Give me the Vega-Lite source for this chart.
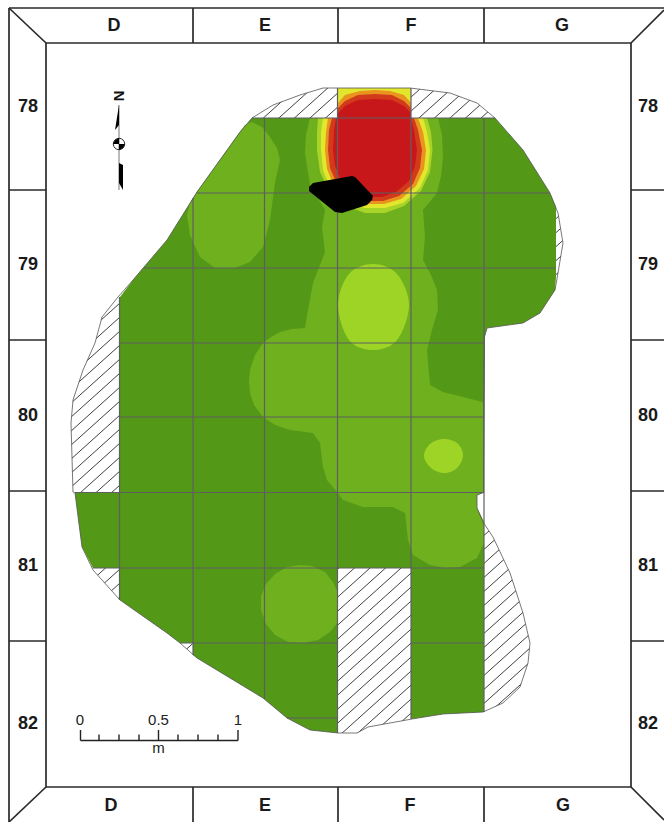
{"$schema":"https://vega.github.io/schema/vega-lite/v6.json","width":664,"height":822,"padding":0,"autosize":{"type":"none"},"background":"white","view":{"stroke":null},
"datasets":{
"site":[{"x":252,"y":118},{"x":240,"y":132},{"x":197,"y":192},{"x":167,"y":240},{"x":133,"y":280},{"x":118,"y":297},{"x":102,"y":317},{"x":95,"y":343},{"x":83,"y":370},{"x":73,"y":400},{"x":71,"y":423},{"x":73,"y":492},{"x":75,"y":493},{"x":82,"y":547},{"x":93,"y":570},{"x":120,"y":600},{"x":167,"y":633},{"x":180,"y":643},{"x":197,"y":658},{"x":263,"y":698},{"x":287,"y":718},{"x":310,"y":730},{"x":338,"y":733},{"x":357,"y":733},{"x":368,"y":727},{"x":412,"y":719},{"x":443,"y":714},{"x":483,"y":712},{"x":503,"y":703},{"x":520,"y":687},{"x":528,"y":663},{"x":530,"y":643},{"x":523,"y":613},{"x":510,"y":573},{"x":493,"y":537},{"x":483,"y":522},{"x":477,"y":508},{"x":477,"y":495},{"x":483.5,"y":492.5},{"x":484.5,"y":337},{"x":487,"y":328},{"x":523,"y":323},{"x":540,"y":313},{"x":555,"y":290},{"x":558,"y":273},{"x":563,"y":243},{"x":558,"y":213},{"x":550,"y":193},{"x":523,"y":150},{"x":495,"y":118},{"x":477,"y":103},{"x":450,"y":93},{"x":410,"y":88},{"x":323,"y":88},{"x":300,"y":95},{"x":273,"y":105},{"x":252,"y":118}],
"stone":[{"s":"stone","x":313,"y":183},{"s":"stone","x":352,"y":176},{"s":"stone","x":355,"y":177},{"s":"stone","x":373,"y":196},{"s":"stone","x":372,"y":200},{"s":"stone","x":367,"y":205},{"s":"stone","x":342,"y":213},{"s":"stone","x":335,"y":212},{"s":"stone","x":309,"y":191},{"s":"stone","x":309,"y":187},
{"s":"wedge","x":119,"y":105},{"s":"wedge","x":115,"y":130},{"s":"wedge","x":119,"y":125},
{"s":"tail","x":119,"y":163},{"s":"tail","x":123,"y":165},{"s":"tail","x":123,"y":190},{"s":"tail","x":119,"y":183},
{"s":"q1","x":119,"y":144},{"s":"q1","x":113,"y":144},{"s":"q1","x":115,"y":140},{"s":"q1","x":119,"y":138},
{"s":"q2","x":119,"y":144},{"s":"q2","x":125,"y":144},{"s":"q2","x":123,"y":148},{"s":"q2","x":119,"y":150}]
},
"encoding":{"x":{"field":"x","type":"quantitative","scale":{"domain":[0,664],"nice":false,"zero":false},"axis":null},"y":{"field":"y","type":"quantitative","scale":{"domain":[822,0],"nice":false,"zero":false},"axis":null}},
"layer":[
{"data":{"values":[{"x":60,"y":287,"x2":570,"y2":-172},{"x":60,"y":301,"x2":570,"y2":-158},{"x":60,"y":315,"x2":570,"y2":-144},{"x":60,"y":329,"x2":570,"y2":-130},{"x":60,"y":343,"x2":570,"y2":-116},{"x":60,"y":357,"x2":570,"y2":-102},{"x":60,"y":371,"x2":570,"y2":-88},{"x":60,"y":385,"x2":570,"y2":-74},{"x":60,"y":399,"x2":570,"y2":-60},{"x":60,"y":413,"x2":570,"y2":-46},{"x":60,"y":427,"x2":570,"y2":-32},{"x":60,"y":441,"x2":570,"y2":-18},{"x":60,"y":455,"x2":570,"y2":-4},{"x":60,"y":469,"x2":570,"y2":10},{"x":60,"y":483,"x2":570,"y2":24},{"x":60,"y":497,"x2":570,"y2":38},{"x":60,"y":511,"x2":570,"y2":52},{"x":60,"y":525,"x2":570,"y2":66},{"x":60,"y":539,"x2":570,"y2":80},{"x":60,"y":553,"x2":570,"y2":94},{"x":60,"y":567,"x2":570,"y2":108},{"x":60,"y":581,"x2":570,"y2":122},{"x":60,"y":595,"x2":570,"y2":136},{"x":60,"y":609,"x2":570,"y2":150},{"x":60,"y":623,"x2":570,"y2":164},{"x":60,"y":637,"x2":570,"y2":178},{"x":60,"y":651,"x2":570,"y2":192},{"x":60,"y":665,"x2":570,"y2":206},{"x":60,"y":679,"x2":570,"y2":220},{"x":60,"y":693,"x2":570,"y2":234},{"x":60,"y":707,"x2":570,"y2":248},{"x":60,"y":721,"x2":570,"y2":262},{"x":60,"y":735,"x2":570,"y2":276},{"x":60,"y":749,"x2":570,"y2":290},{"x":60,"y":763,"x2":570,"y2":304},{"x":60,"y":777,"x2":570,"y2":318},{"x":60,"y":791,"x2":570,"y2":332},{"x":60,"y":805,"x2":570,"y2":346},{"x":60,"y":819,"x2":570,"y2":360},{"x":60,"y":833,"x2":570,"y2":374},{"x":60,"y":847,"x2":570,"y2":388},{"x":60,"y":861,"x2":570,"y2":402},{"x":60,"y":875,"x2":570,"y2":416},{"x":60,"y":889,"x2":570,"y2":430},{"x":60,"y":903,"x2":570,"y2":444},{"x":60,"y":917,"x2":570,"y2":458},{"x":60,"y":931,"x2":570,"y2":472},{"x":60,"y":945,"x2":570,"y2":486},{"x":60,"y":959,"x2":570,"y2":500},{"x":60,"y":973,"x2":570,"y2":514},{"x":60,"y":987,"x2":570,"y2":528},{"x":60,"y":1001,"x2":570,"y2":542},{"x":60,"y":1015,"x2":570,"y2":556},{"x":60,"y":1029,"x2":570,"y2":570},{"x":60,"y":1043,"x2":570,"y2":584},{"x":60,"y":1057,"x2":570,"y2":598},{"x":60,"y":1071,"x2":570,"y2":612},{"x":60,"y":1085,"x2":570,"y2":626},{"x":60,"y":1099,"x2":570,"y2":640},{"x":60,"y":1113,"x2":570,"y2":654}]},"mark":{"type":"rule","stroke":"#2a2a2a","strokeWidth":0.9},"encoding":{"x2":{"field":"x2"},"y2":{"field":"y2"}}},
{"data":{"values":[
{"s":"mask","x":0,"y":0},{"s":"mask","x":664,"y":0},{"s":"mask","x":664,"y":822},{"s":"mask","x":0,"y":822},{"s":"mask","x":0,"y":0},{"s":"mask","x":252,"y":118},{"s":"mask","x":240,"y":132},{"s":"mask","x":197,"y":192},{"s":"mask","x":167,"y":240},{"s":"mask","x":133,"y":280},{"s":"mask","x":118,"y":297},{"s":"mask","x":102,"y":317},{"s":"mask","x":95,"y":343},{"s":"mask","x":83,"y":370},{"s":"mask","x":73,"y":400},{"s":"mask","x":71,"y":423},{"s":"mask","x":73,"y":492},{"s":"mask","x":75,"y":493},{"s":"mask","x":82,"y":547},{"s":"mask","x":93,"y":570},{"s":"mask","x":120,"y":600},{"s":"mask","x":167,"y":633},{"s":"mask","x":180,"y":643},{"s":"mask","x":197,"y":658},{"s":"mask","x":263,"y":698},{"s":"mask","x":287,"y":718},{"s":"mask","x":310,"y":730},{"s":"mask","x":338,"y":733},{"s":"mask","x":357,"y":733},{"s":"mask","x":368,"y":727},{"s":"mask","x":412,"y":719},{"s":"mask","x":443,"y":714},{"s":"mask","x":483,"y":712},{"s":"mask","x":503,"y":703},{"s":"mask","x":520,"y":687},{"s":"mask","x":528,"y":663},{"s":"mask","x":530,"y":643},{"s":"mask","x":523,"y":613},{"s":"mask","x":510,"y":573},{"s":"mask","x":493,"y":537},{"s":"mask","x":483,"y":522},{"s":"mask","x":477,"y":508},{"s":"mask","x":477,"y":495},{"s":"mask","x":483.5,"y":492.5},{"s":"mask","x":484.5,"y":337},{"s":"mask","x":487,"y":328},{"s":"mask","x":523,"y":323},{"s":"mask","x":540,"y":313},{"s":"mask","x":555,"y":290},{"s":"mask","x":558,"y":273},{"s":"mask","x":563,"y":243},{"s":"mask","x":558,"y":213},{"s":"mask","x":550,"y":193},{"s":"mask","x":523,"y":150},{"s":"mask","x":495,"y":118},{"s":"mask","x":477,"y":103},{"s":"mask","x":450,"y":93},{"s":"mask","x":410,"y":88},{"s":"mask","x":323,"y":88},{"s":"mask","x":300,"y":95},{"s":"mask","x":273,"y":105},{"s":"mask","x":252,"y":118},{"s":"mask","x":0,"y":0},
{"s":"base","x":252,"y":118},{"s":"base","x":495,"y":118},{"s":"base","x":523,"y":150},{"s":"base","x":550,"y":193},{"s":"base","x":556,"y":207},{"s":"base","x":556,"y":277},{"s":"base","x":555,"y":290},{"s":"base","x":540,"y":313},{"s":"base","x":523,"y":323},{"s":"base","x":487,"y":328},{"s":"base","x":484.5,"y":337},{"s":"base","x":483.5,"y":492.5},{"s":"base","x":477,"y":495},{"s":"base","x":477,"y":508},{"s":"base","x":484,"y":522},{"s":"base","x":484,"y":712},{"s":"base","x":443,"y":714},{"s":"base","x":411,"y":719},{"s":"base","x":411,"y":568},{"s":"base","x":338,"y":568},{"s":"base","x":338,"y":733},{"s":"base","x":310,"y":730},{"s":"base","x":287,"y":718},{"s":"base","x":263,"y":698},{"s":"base","x":197,"y":658},{"s":"base","x":193,"y":655},{"s":"base","x":193,"y":643},{"s":"base","x":180,"y":643},{"s":"base","x":167,"y":633},{"s":"base","x":120,"y":600},{"s":"base","x":120,"y":568},{"s":"base","x":93,"y":568},{"s":"base","x":82,"y":547},{"s":"base","x":75,"y":493},{"s":"base","x":120,"y":492},{"s":"base","x":120,"y":297},{"s":"base","x":133,"y":280},{"s":"base","x":167,"y":240},{"s":"base","x":197,"y":192},{"s":"base","x":240,"y":132},
{"s":"mid","x":310,"y":118},{"s":"mid","x":438,"y":118},{"s":"mid","x":442,"y":135},{"s":"mid","x":443,"y":157},{"s":"mid","x":441,"y":176},{"s":"mid","x":437,"y":193},{"s":"mid","x":423,"y":210},{"s":"mid","x":425,"y":237},{"s":"mid","x":423,"y":260},{"s":"mid","x":431,"y":275},{"s":"mid","x":437,"y":290},{"s":"mid","x":438,"y":310},{"s":"mid","x":432,"y":330},{"s":"mid","x":427,"y":350},{"s":"mid","x":430,"y":385},{"s":"mid","x":443,"y":392},{"s":"mid","x":483,"y":402},{"s":"mid","x":483.5,"y":492.5},{"s":"mid","x":477,"y":495},{"s":"mid","x":477,"y":508},{"s":"mid","x":484,"y":522},{"s":"mid","x":484,"y":543},{"s":"mid","x":477,"y":558},{"s":"mid","x":460,"y":567},{"s":"mid","x":445,"y":568},{"s":"mid","x":430,"y":565},{"s":"mid","x":413,"y":555},{"s":"mid","x":408,"y":540},{"s":"mid","x":405,"y":513},{"s":"mid","x":393,"y":507},{"s":"mid","x":363,"y":507},{"s":"mid","x":343,"y":500},{"s":"mid","x":337,"y":492},{"s":"mid","x":327,"y":480},{"s":"mid","x":323,"y":467},{"s":"mid","x":320,"y":443},{"s":"mid","x":313,"y":433},{"s":"mid","x":290,"y":430},{"s":"mid","x":275,"y":425},{"s":"mid","x":263,"y":417},{"s":"mid","x":254,"y":405},{"s":"mid","x":250,"y":393},{"s":"mid","x":249,"y":381},{"s":"mid","x":250,"y":370},{"s":"mid","x":255,"y":355},{"s":"mid","x":263,"y":343},{"s":"mid","x":271,"y":337},{"s":"mid","x":280,"y":332},{"s":"mid","x":292,"y":329},{"s":"mid","x":305,"y":328},{"s":"mid","x":308,"y":310},{"s":"mid","x":313,"y":283},{"s":"mid","x":325,"y":252},{"s":"mid","x":322,"y":227},{"s":"mid","x":325,"y":210},{"s":"mid","x":310,"y":185},{"s":"mid","x":305,"y":153},{"s":"mid","x":306,"y":135},
{"s":"mid2","x":240,"y":132},{"s":"mid2","x":245,"y":125},{"s":"mid2","x":252,"y":122},{"s":"mid2","x":262,"y":127},{"s":"mid2","x":270,"y":137},{"s":"mid2","x":277,"y":148},{"s":"mid2","x":280,"y":160},{"s":"mid2","x":275,"y":183},{"s":"mid2","x":270,"y":220},{"s":"mid2","x":263,"y":247},{"s":"mid2","x":250,"y":262},{"s":"mid2","x":235,"y":268},{"s":"mid2","x":215,"y":268},{"s":"mid2","x":200,"y":257},{"s":"mid2","x":190,"y":235},{"s":"mid2","x":187,"y":215},{"s":"mid2","x":190,"y":203},{"s":"mid2","x":197,"y":192},
{"s":"mid3","x":300,"y":565},{"s":"mid3","x":312,"y":566},{"s":"mid3","x":325,"y":572},{"s":"mid3","x":333,"y":582},{"s":"mid3","x":338,"y":593},{"s":"mid3","x":338,"y":622},{"s":"mid3","x":330,"y":632},{"s":"mid3","x":318,"y":640},{"s":"mid3","x":303,"y":643},{"s":"mid3","x":288,"y":642},{"s":"mid3","x":275,"y":635},{"s":"mid3","x":266,"y":624},{"s":"mid3","x":261,"y":610},{"s":"mid3","x":261,"y":596},{"s":"mid3","x":266,"y":584},{"s":"mid3","x":275,"y":574},{"s":"mid3","x":287,"y":567}
]},"transform":[{"window":[{"op":"row_number","as":"i"}]}],"mark":{"type":"line","strokeWidth":0,"strokeOpacity":0},
"encoding":{"order":{"field":"i"},"detail":{"field":"s"},"fill":{"field":"s","type":"nominal","legend":null,"scale":{"domain":["mask","base","mid","mid2","mid3","pale","yellow","orange","dark","red"],"range":["#ffffff","#549817","#6fb01e","#6fb01e","#6fb01e","#a8d428","#e2e62c","#e8941e","#d23a1c","#c8171b"]}}}},
{"data":{"values":[
{"s":"l1","x":373,"y":264},{"s":"l1","x":397,"y":274},{"s":"l1","x":409,"y":305},{"s":"l1","x":397,"y":340},{"s":"l1","x":373,"y":350},{"s":"l1","x":349,"y":340},{"s":"l1","x":338,"y":305},{"s":"l1","x":349,"y":274},
{"s":"l2","x":443,"y":439},{"s":"l2","x":457,"y":443},{"s":"l2","x":463,"y":455},{"s":"l2","x":457,"y":468},{"s":"l2","x":444,"y":473},{"s":"l2","x":431,"y":468},{"s":"l2","x":424,"y":456},{"s":"l2","x":430,"y":444}
]},"transform":[{"window":[{"op":"row_number","as":"i"}]}],"mark":{"type":"line","strokeWidth":0,"strokeOpacity":0,"interpolate":"cardinal-closed","fill":"#9ed426"},"encoding":{"order":{"field":"i"},"detail":{"field":"s"}}},
{"data":{"values":[
{"s":"pale","x":318,"y":118},{"s":"pale","x":427,"y":118},{"s":"pale","x":431,"y":132},{"s":"pale","x":432.5,"y":150},{"s":"pale","x":430,"y":172},{"s":"pale","x":421,"y":191},{"s":"pale","x":404,"y":206},{"s":"pale","x":385,"y":213},{"s":"pale","x":365,"y":213},{"s":"pale","x":346,"y":206},{"s":"pale","x":329,"y":191},{"s":"pale","x":320,"y":172},{"s":"pale","x":317,"y":150},{"s":"pale","x":317,"y":132},
{"s":"yellow","x":323,"y":118},{"s":"yellow","x":338,"y":118},{"s":"yellow","x":338,"y":88},{"s":"yellow","x":411,"y":88},{"s":"yellow","x":411,"y":118},{"s":"yellow","x":423,"y":118},{"s":"yellow","x":427,"y":132},{"s":"yellow","x":430,"y":150},{"s":"yellow","x":428,"y":170},{"s":"yellow","x":420,"y":188},{"s":"yellow","x":403,"y":203},{"s":"yellow","x":385,"y":208},{"s":"yellow","x":365,"y":208},{"s":"yellow","x":347,"y":203},{"s":"yellow","x":330,"y":188},{"s":"yellow","x":323,"y":170},{"s":"yellow","x":321,"y":150},{"s":"yellow","x":321,"y":132},
{"s":"orange","x":338,"y":103},{"s":"orange","x":345,"y":95},{"s":"orange","x":360,"y":91},{"s":"orange","x":375,"y":90},{"s":"orange","x":390,"y":91},{"s":"orange","x":404,"y":95},{"s":"orange","x":411,"y":103},{"s":"orange","x":411,"y":118},{"s":"orange","x":418,"y":118},{"s":"orange","x":423,"y":132},{"s":"orange","x":426,"y":150},{"s":"orange","x":424,"y":169},{"s":"orange","x":416,"y":186},{"s":"orange","x":401,"y":199},{"s":"orange","x":384,"y":204},{"s":"orange","x":366,"y":204},{"s":"orange","x":349,"y":199},{"s":"orange","x":334,"y":186},{"s":"orange","x":327,"y":169},{"s":"orange","x":325,"y":150},{"s":"orange","x":326,"y":132},{"s":"orange","x":328,"y":118},{"s":"orange","x":338,"y":118},
{"s":"dark","x":338,"y":108},{"s":"dark","x":345,"y":101},{"s":"dark","x":358,"y":95},{"s":"dark","x":375,"y":94},{"s":"dark","x":392,"y":95},{"s":"dark","x":404,"y":101},{"s":"dark","x":411,"y":108},{"s":"dark","x":411,"y":118},{"s":"dark","x":414,"y":118},{"s":"dark","x":418,"y":130},{"s":"dark","x":422,"y":150},{"s":"dark","x":420,"y":168},{"s":"dark","x":413,"y":184},{"s":"dark","x":399,"y":196},{"s":"dark","x":383,"y":201},{"s":"dark","x":367,"y":201},{"s":"dark","x":351,"y":196},{"s":"dark","x":337,"y":184},{"s":"dark","x":330,"y":168},{"s":"dark","x":328,"y":150},{"s":"dark","x":329,"y":130},{"s":"dark","x":332,"y":118},{"s":"dark","x":338,"y":118},
{"s":"red","x":338,"y":113},{"s":"red","x":345,"y":106},{"s":"red","x":358,"y":100},{"s":"red","x":375,"y":99},{"s":"red","x":392,"y":100},{"s":"red","x":404,"y":106},{"s":"red","x":411,"y":113},{"s":"red","x":411,"y":118},{"s":"red","x":414,"y":130},{"s":"red","x":417,"y":150},{"s":"red","x":415,"y":166},{"s":"red","x":409,"y":181},{"s":"red","x":396,"y":192},{"s":"red","x":382,"y":197},{"s":"red","x":368,"y":197},{"s":"red","x":354,"y":192},{"s":"red","x":341,"y":181},{"s":"red","x":335,"y":166},{"s":"red","x":333,"y":150},{"s":"red","x":334,"y":130},{"s":"red","x":336,"y":118},{"s":"red","x":338,"y":118}
]},"transform":[{"window":[{"op":"row_number","as":"i"}]}],"mark":{"type":"line","strokeWidth":0,"strokeOpacity":0},
"encoding":{"order":{"field":"i"},"detail":{"field":"s"},"fill":{"field":"s","type":"nominal","legend":null,"scale":{"domain":["mask","base","mid","mid2","mid3","pale","yellow","orange","dark","red"],"range":["#ffffff","#549817","#6fb01e","#6fb01e","#6fb01e","#a8d428","#e2e62c","#e8941e","#d23a1c","#c8171b"]}}}},
{"data":{"values":[
{"x":119.5,"y":297,"x2":119.5,"y2":600},{"x":193,"y":198,"x2":193,"y2":655},{"x":264.5,"y":118,"x2":264.5,"y2":699},{"x":337.5,"y":88,"x2":337.5,"y2":733},{"x":411,"y":88,"x2":411,"y2":719},{"x":484,"y":118,"x2":484,"y2":712},
{"x":252,"y":118,"x2":495,"y2":118},{"x":197,"y":193,"x2":550,"y2":193},{"x":144,"y":268,"x2":556,"y2":268},{"x":119.5,"y":343,"x2":484,"y2":343},{"x":119.5,"y":417,"x2":484,"y2":417},{"x":75,"y":492.5,"x2":484,"y2":492.5},{"x":93,"y":568,"x2":484,"y2":568},{"x":180,"y":643,"x2":337.5,"y2":643},{"x":411,"y":643,"x2":484,"y2":643},{"x":287,"y":718,"x2":337.5,"y2":718}
]},"mark":{"type":"rule","stroke":"#5f5f63","strokeWidth":1.2},"encoding":{"x2":{"field":"x2"},"y2":{"field":"y2"}}},
{"data":{"name":"site"},"transform":[{"window":[{"op":"row_number","as":"i"}]}],"mark":{"type":"line","stroke":"#555555","strokeWidth":0.8},"encoding":{"order":{"field":"i"}}},
{"data":{"values":[{"x":119,"y":105,"x2":119,"y2":190}]},"mark":{"type":"rule","stroke":"#777777","strokeWidth":1},"encoding":{"x2":{"field":"x2"},"y2":{"field":"y2"}}},
{"data":{"values":[{"x":119,"y":144}]},"mark":{"type":"point","shape":"circle","size":130,"filled":false,"stroke":"#333333","strokeWidth":1,"opacity":1}},
{"data":{"name":"stone"},"transform":[{"window":[{"op":"row_number","as":"i"}]}],"mark":{"type":"line","strokeWidth":0,"strokeOpacity":0,"fill":"#000000"},"encoding":{"order":{"field":"i"},"detail":{"field":"s"}}},
{"data":{"values":[
{"x":9,"y":8,"x2":664,"y2":8},{"x":9,"y":8,"x2":9,"y2":822},{"x":46,"y":43,"x2":631,"y2":43},{"x":46,"y":43,"x2":46,"y2":787},{"x":631,"y":43,"x2":631,"y2":787},{"x":46,"y":787,"x2":631,"y2":787},
{"x":9,"y":8,"x2":46,"y2":43},{"x":664,"y":10,"x2":631,"y2":43},{"x":631,"y":787,"x2":664,"y2":820},{"x":46,"y":787,"x2":9,"y2":822},
{"x":193,"y":8,"x2":193,"y2":43},{"x":338,"y":8,"x2":338,"y2":43},{"x":484,"y":8,"x2":484,"y2":43},
{"x":193,"y":787,"x2":193,"y2":822},{"x":338,"y":787,"x2":338,"y2":822},{"x":484,"y":787,"x2":484,"y2":822},
{"x":9,"y":190,"x2":46,"y2":190},{"x":9,"y":340,"x2":46,"y2":340},{"x":9,"y":491,"x2":46,"y2":491},{"x":9,"y":641,"x2":46,"y2":641},
{"x":631,"y":190,"x2":664,"y2":190},{"x":631,"y":340,"x2":664,"y2":340},{"x":631,"y":491,"x2":664,"y2":491},{"x":631,"y":641,"x2":664,"y2":641}
]},"mark":{"type":"rule","stroke":"#2a2a2a","strokeWidth":1.7},"encoding":{"x2":{"field":"x2"},"y2":{"field":"y2"}}},
{"data":{"values":[
{"x":80.5,"y":740.5,"x2":238,"y2":740.5},{"x":80.5,"y":730,"x2":80.5,"y2":740.5},{"x":238,"y":730,"x2":238,"y2":740.5},{"x":158.5,"y":730,"x2":158.5,"y2":740.5},{"x":99,"y":734.5,"x2":99,"y2":740.5},{"x":119,"y":734.5,"x2":119,"y2":740.5},{"x":139,"y":734.5,"x2":139,"y2":740.5},{"x":178,"y":734.5,"x2":178,"y2":740.5},{"x":198,"y":734.5,"x2":198,"y2":740.5},{"x":218,"y":734.5,"x2":218,"y2":740.5}
]},"mark":{"type":"rule","stroke":"#222222","strokeWidth":1.4},"encoding":{"x2":{"field":"x2"},"y2":{"field":"y2"}}},
{"data":{"values":[
{"x":114,"y":26,"t":"D"},{"x":265,"y":26,"t":"E"},{"x":411,"y":26,"t":"F"},{"x":562,"y":26,"t":"G"},
{"x":111,"y":806,"t":"D"},{"x":265,"y":806,"t":"E"},{"x":410,"y":806,"t":"F"},{"x":563,"y":806,"t":"G"},
{"x":28,"y":107,"t":"78"},{"x":28,"y":265,"t":"79"},{"x":28,"y":416,"t":"80"},{"x":28,"y":566,"t":"81"},{"x":28,"y":724,"t":"82"},
{"x":648,"y":107,"t":"78"},{"x":648,"y":265,"t":"79"},{"x":648,"y":416,"t":"80"},{"x":648,"y":566,"t":"81"},{"x":648,"y":724,"t":"82"}
]},"mark":{"type":"text","font":"Liberation Sans","fontWeight":"bold","fontSize":18,"fill":"#1a1a1a","align":"center","baseline":"middle"},"encoding":{"text":{"field":"t"}}},
{"data":{"values":[{"x":80,"y":720,"t":"0"},{"x":158.5,"y":720,"t":"0.5"},{"x":238,"y":720,"t":"1"},{"x":158.5,"y":748,"t":"m"}]},"mark":{"type":"text","font":"Liberation Sans","fontSize":15,"fill":"#222222","align":"center","baseline":"middle"},"encoding":{"text":{"field":"t"}}},
{"data":{"values":[{"x":119,"y":96,"t":"N"}]},"mark":{"type":"text","font":"Liberation Sans","fontWeight":"bold","fontSize":15,"fill":"#111111","angle":90,"align":"center","baseline":"middle"},"encoding":{"text":{"field":"t"}}}
]}
